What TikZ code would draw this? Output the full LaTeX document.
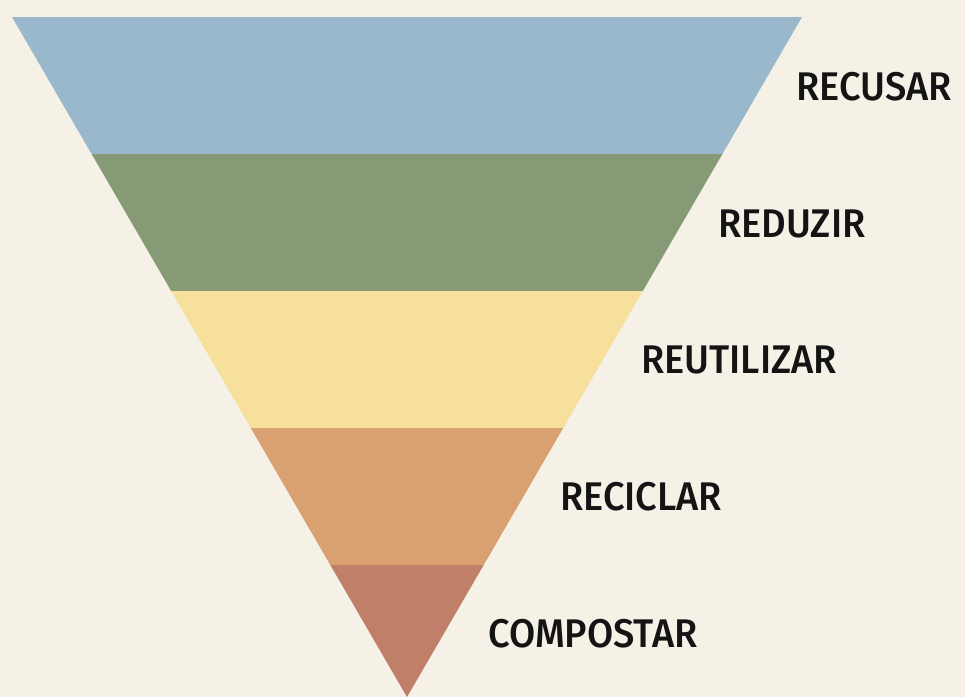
\documentclass[tikz,border=0pt]{standalone}
\usepackage{fontspec}
\setmainfont{Fira Sans}
\newfontfamily\labfont{Fira Sans Medium}[FakeStretch=0.95]
\definecolor{bg}{RGB}{245,241,231}
\definecolor{c1}{RGB}{154,184,203}
\definecolor{c2}{RGB}{134,155,117}
\definecolor{c3}{RGB}{247,223,156}
\definecolor{c4}{RGB}{217,161,114}
\definecolor{c5}{RGB}{192,127,105}
\definecolor{ink}{RGB}{20,20,20}
\begin{document}
\begin{tikzpicture}[x=1pt,y=-1pt,
  lab/.style={anchor=base west,inner sep=0pt,text=ink,font=\labfont\fontsize{40}{40}\selectfont}]
\fill[bg] (0,0) rectangle (965,697);
\useasboundingbox (0,0) rectangle (965,697);
\fill[c1] (12,17) -- (802,17) -- (722.4,154) -- (91.6,154) -- cycle;
\fill[c2] (91.6,154) -- (722.4,154) -- (642.8,291) -- (171.2,291) -- cycle;
\fill[c3] (171.2,291) -- (642.8,291) -- (563.2,428) -- (250.8,428) -- cycle;
\fill[c4] (250.8,428) -- (563.2,428) -- (483.7,565) -- (330.3,565) -- cycle;
\fill[c5] (330.3,565) -- (483.7,565) -- (407,697) -- cycle;
\node[lab] (l1) at (796,100) {RECUSAR};
\node[lab] (l2) at (718,237) {REDUZIR};
\node[lab] (l3) at (641,373) {REUTILIZAR};
\node[lab] (l4) at (560,510) {RECICLAR};
\node[lab] (l5) at (488,647) {COMPOSTAR};
\end{tikzpicture}
\end{document}
